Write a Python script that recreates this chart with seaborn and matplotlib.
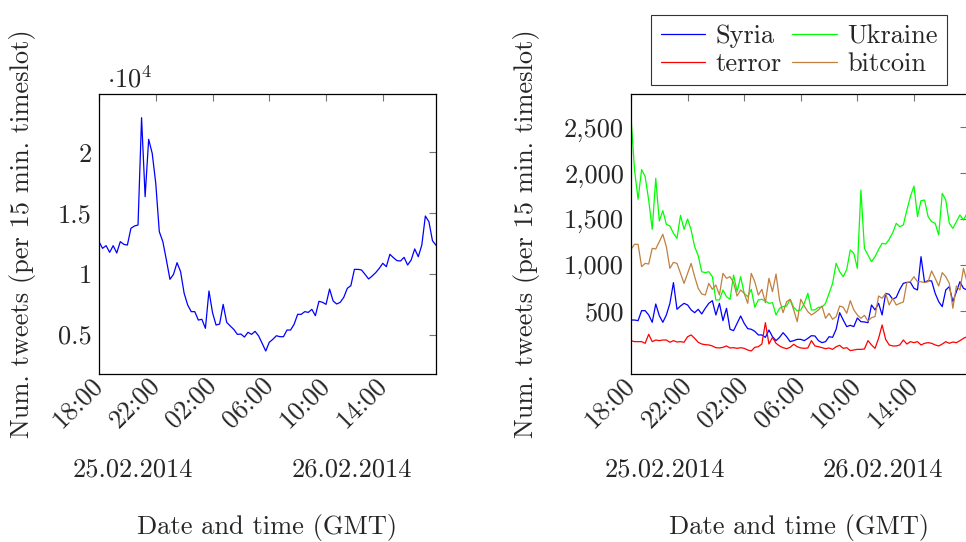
import pandas as pd
import matplotlib
matplotlib.use('Agg')
import matplotlib.pyplot as plt
import matplotlib.dates as mdates
from matplotlib.ticker import FixedLocator, FuncFormatter
from matplotlib.lines import Line2D
import seaborn as sns

# 15-minute timeslots, 25.02.2014 18:00 .. 26.02.2014 17:45
times = pd.date_range('2014-02-25 18:00', periods=96, freq='15min')

total = [12650, 12100, 12320, 11770, 12320, 11720, 12650, 12430, 12370, 13750,
         13940, 14020, 22850, 16350, 21070, 19920, 17450, 13470, 12650, 11140,
         9550, 9960, 10920, 10180, 8400, 7440, 6890, 6890, 6200, 6260,
         5520, 8590, 6810, 5790, 5870, 7490, 6010, 5710, 5430, 5020,
         5050, 4800, 5190, 5020, 5270, 4890, 4280, 3650, 4370, 4610,
         4910, 4830, 4830, 5380, 5380, 5850, 6670, 6670, 6890, 6830,
         7080, 6560, 7740, 7660, 7490, 8750, 7770, 7520, 7660, 8070,
         8810, 9030, 10370, 10370, 10320, 9960, 9580, 9820, 10100, 10450,
         10870, 10590, 11610, 11330, 11090, 11060, 11360, 10730, 11140, 12050,
         11410, 12370, 14760, 14290, 12730, 12350]

syria = [398, 398, 391, 500, 500, 453, 373, 573, 446, 373,
         453, 580, 806, 515, 551, 580, 562, 508, 478, 515,
         464, 526, 580, 609, 453, 580, 391, 526, 297, 282,
         362, 442, 362, 304, 297, 275, 235, 235, 209, 289,
         216, 173, 209, 260, 216, 162, 173, 187, 187, 173,
         198, 227, 224, 173, 151, 162, 216, 209, 297, 478,
         398, 326, 340, 326, 420, 380, 377, 369, 562, 508,
         580, 453, 689, 678, 624, 646, 733, 798, 809, 809,
         744, 726, 1089, 809, 827, 824, 689, 598, 544, 726,
         762, 598, 707, 816, 744, 726]

ukraine = [2616, 2035, 1715, 2040, 1962, 1707, 1387, 1944, 1478, 1591,
           1442, 1424, 1344, 1289, 1540, 1387, 1500, 1380, 1198, 1100,
           925, 915, 925, 871, 617, 617, 726, 653, 624, 889,
           707, 871, 689, 653, 733, 537, 617, 624, 606, 580,
           587, 453, 526, 544, 551, 624, 537, 497, 508, 580,
           689, 508, 508, 537, 537, 580, 689, 798, 1017, 925,
           871, 951, 1162, 1126, 962, 1816, 1180, 1107, 1035, 1089,
           1169, 1235, 1227, 1278, 1351, 1453, 1416, 1435, 1598, 1744,
           1860, 1526, 1700, 1707, 1526, 1471, 1453, 1326, 1780, 1707,
           1453, 1398, 1471, 1544, 1489, 1562]

terror = [173, 162, 162, 162, 144, 242, 162, 180, 173, 180,
          180, 155, 173, 158, 162, 155, 216, 235, 198, 155,
          136, 129, 126, 115, 96, 93, 100, 115, 93, 96,
          89, 96, 89, 71, 60, 100, 107, 136, 369, 136,
          209, 144, 115, 96, 85, 100, 133, 107, 93, 89,
          93, 173, 115, 107, 96, 85, 93, 78, 107, 122,
          89, 96, 64, 71, 78, 78, 82, 173, 126, 89,
          198, 344, 187, 126, 115, 115, 126, 180, 136, 162,
          151, 162, 126, 144, 151, 144, 126, 115, 136, 162,
          144, 158, 151, 173, 198, 216]

bitcoin = [1169, 1224, 1224, 980, 1016, 1009, 1180, 1173, 1253, 1333,
           1198, 962, 1027, 1016, 907, 798, 907, 1016, 871, 744,
           682, 671, 798, 733, 780, 671, 907, 853, 871, 806,
           660, 726, 689, 580, 907, 816, 671, 733, 587, 853,
           707, 900, 617, 478, 598, 624, 508, 380, 624, 551,
           489, 453, 478, 508, 551, 417, 471, 406, 435, 551,
           537, 471, 609, 508, 453, 417, 449, 387, 424, 435,
           660, 635, 689, 562, 635, 562, 580, 595, 806, 816,
           871, 816, 816, 806, 816, 933, 853, 769, 915, 871,
           798, 526, 769, 726, 962, 816]

topics = ['Syria', 'Ukraine', 'terror', 'bitcoin']
colors = {'Syria': '#0000ff', 'Ukraine': '#00ff00',
          'terror': '#ff0000', 'bitcoin': '#bf8040'}

tick_times = pd.date_range('2014-02-25 18:00', periods=6, freq='4h')
date_labels = ['25.02.2014', '26.02.2014']

sns.set_style('white')
plt.rcParams['font.family'] = ['cmr10', 'DejaVu Serif']
plt.rcParams['mathtext.fontset'] = 'cm'
plt.rcParams['axes.formatter.use_mathtext'] = True
plt.rcParams['font.size'] = 19

df_total = pd.DataFrame({'time': times, 'tweets': total})
df_topics = pd.concat([
    pd.DataFrame({'time': times, 'tweets': vals, 'topic': name})
    for name, vals in zip(topics, [syria, ukraine, terror, bitcoin])
])

fig = plt.figure(figsize=(9.66, 5.42), dpi=100)
ax1 = fig.add_axes([99 / 966, 1 - 374 / 542, 337 / 966, 280 / 542])
ax2 = fig.add_axes([631 / 966, 1 - 374 / 542, 336 / 966, 280 / 542])

sns.lineplot(data=df_total, x='time', y='tweets', color='#0000ff', lw=0.9, ax=ax1)
sns.lineplot(data=df_topics, x='time', y='tweets', hue='topic', palette=colors,
             hue_order=topics, lw=0.9, ax=ax2, legend=False)

for ax in (ax1, ax2):
    ax.set_xlim(times[0], times[-1])
    ax.xaxis.set_major_locator(FixedLocator(mdates.date2num(tick_times)))
    ax.xaxis.set_major_formatter(mdates.DateFormatter('%H:%M'))
    ax.tick_params(direction='in', top=True, right=True, length=5, width=0.8,
                   color='0.45', labelsize=19, pad=5)
    plt.setp(ax.get_xticklabels(), rotation=45, ha='right', va='center',
             rotation_mode='anchor')
    for s in ax.spines.values():
        s.set_color('black')
        s.set_linewidth(0.9)
    ax.set_xlabel('Date and time (GMT)', fontsize=19)
    ax.xaxis.set_label_coords(0.5, -0.5)
    ax.set_ylabel('Num. tweets (per 15 min. timeslot)', fontsize=19)
    ax.text(0.101, -0.343, date_labels[0], transform=ax.transAxes,
            ha='center', va='center', fontsize=19)
    ax.text(0.749, -0.343, date_labels[1], transform=ax.transAxes,
            ha='center', va='center', fontsize=19)

ax1.set_ylim(1760, 24800)
ax1.set_yticks([5000, 10000, 15000, 20000])
ax1.yaxis.set_major_formatter(FuncFormatter(lambda v, p: f'{v / 1e4:g}'))
ax1.text(0.024, 1.025, r'$\cdot 10^4$', transform=ax1.transAxes,
         ha='left', va='baseline', fontsize=19)
ax1.yaxis.set_label_coords(-0.187, 0.5)

ax2.set_ylim(-191, 2864)
ax2.set_yticks([500, 1000, 1500, 2000, 2500])
ax2.yaxis.set_major_formatter(FuncFormatter(lambda v, p: f'{v:,.0f}'))
ax2.yaxis.set_label_coords(-0.271, 0.5)

handles = [Line2D([], [], color=colors[t], lw=0.9) for t in ['Syria', 'terror', 'Ukraine', 'bitcoin']]
labels = ['Syria', 'terror', 'Ukraine', 'bitcoin']
leg = ax2.legend(handles, labels, ncol=2, loc='lower center',
                 bbox_to_anchor=(0.5, 1.032), frameon=True, fancybox=False,
                 fontsize=19, handlelength=1.7, handletextpad=0.38,
                 columnspacing=0.4, borderpad=0.35, labelspacing=0.15,
                 borderaxespad=0)
leg.get_frame().set_edgecolor('black')
leg.get_frame().set_linewidth(0.8)

fig.savefig('out.png', dpi=100)
